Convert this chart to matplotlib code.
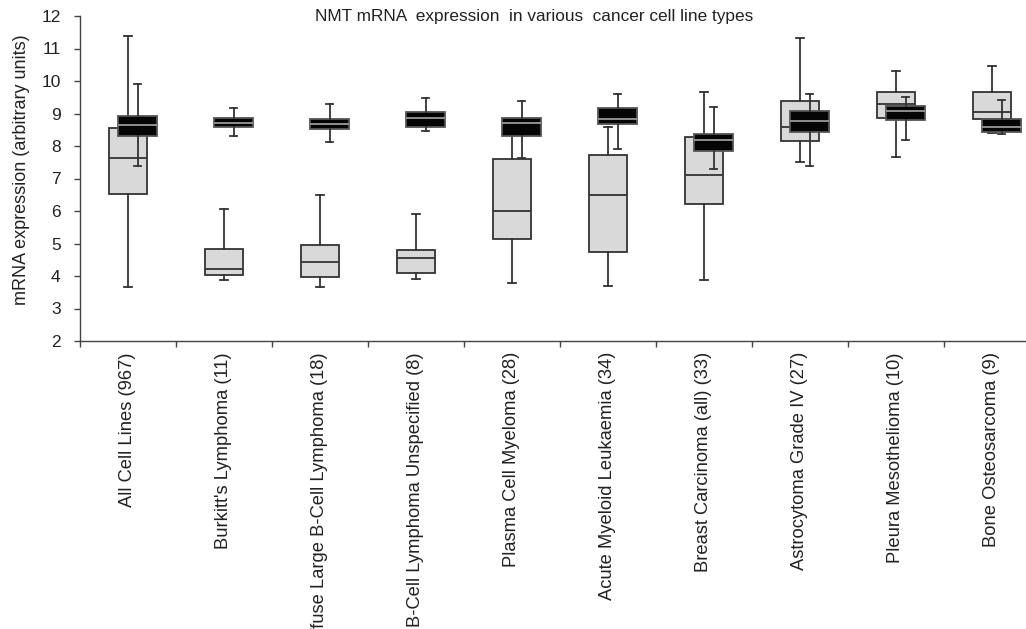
import matplotlib
matplotlib.use("Agg")
import matplotlib.pyplot as plt
from matplotlib import font_manager as fm
import numpy as np

categories = [
    "All Cell Lines (967)",
    "Burkitt's Lymphoma (11)",
    "Diffuse Large B-Cell Lymphoma (18)",
    "B-Cell Lymphoma Unspecified (8)",
    "Plasma Cell Myeloma (28)",
    "Acute Myeloid Leukaemia (34)",
    "Breast Carcinoma (all) (33)",
    "Astrocytoma Grade IV (27)",
    "Pleura Mesothelioma (10)",
    "Bone Osteosarcoma (9)",
]

# grey boxes
gray_whislo = [3.67, 3.89, 3.66, 3.92, 3.78, 3.70, 3.89, 7.50, 7.66, 8.40]
gray_q1     = [6.52, 4.04, 3.97, 4.08, 5.15, 4.73, 6.22, 8.15, 8.86, 8.84]
gray_med    = [7.63, 4.21, 4.42, 4.54, 6.01, 6.48, 7.12, 8.60, 9.30, 9.05]
gray_q3     = [8.56, 4.83, 4.96, 4.80, 7.61, 7.73, 8.27, 9.40, 9.66, 9.66]
gray_whishi = [11.39, 6.05, 6.48, 5.91, 8.40, 8.60, 9.66, 11.31, 10.31, 10.47]

# black boxes
black_whislo = [7.39, 8.30, 8.11, 8.45, 7.62, 7.92, 7.29, 7.39, 8.19, 8.38]
black_q1     = [8.32, 8.58, 8.52, 8.60, 8.32, 8.69, 7.86, 8.43, 8.81, 8.43]
black_med    = [8.66, 8.71, 8.69, 8.86, 8.72, 8.84, 8.17, 8.76, 9.07, 8.58]
black_q3     = [8.92, 8.87, 8.84, 9.06, 8.86, 9.17, 8.36, 9.09, 9.23, 8.82]
black_whishi = [9.90, 9.18, 9.28, 9.48, 9.37, 9.59, 9.21, 9.60, 9.51, 9.41]

title = "NMT mRNA  expression  in various  cancer cell line types"
ylabel = "mRNA expression (arbitrary units)"
yticks = [2, 3, 4, 5, 6, 7, 8, 9, 10, 11, 12]

names = {f.name for f in fm.fontManager.ttflist}
base = "Liberation Sans" if "Liberation Sans" in names else "DejaVu Sans"

W, H = 1026, 629
fig = plt.figure(figsize=(W / 100, H / 100), dpi=100)
ax = fig.add_axes([80 / W, (H - 341) / H, 960 / W, 325 / H])


def stats(lo, q1, med, q3, hi):
    return [dict(whislo=a, q1=b, med=c, q3=d, whishi=e, fliers=[])
            for a, b, c, d, e in zip(lo, q1, med, q3, hi)]


pos = np.arange(len(categories))
edge = "#333333"
lw = 1.3

ax.bxp(stats(gray_whislo, gray_q1, gray_med, gray_q3, gray_whishi),
       positions=pos, widths=0.4, patch_artist=True, showfliers=False,
       capwidths=0.075, zorder=2,
       boxprops=dict(facecolor="#d9d9d9", edgecolor=edge, linewidth=lw),
       medianprops=dict(color=edge, linewidth=lw),
       whiskerprops=dict(color=edge, linewidth=lw),
       capprops=dict(color=edge, linewidth=lw))

ax.bxp(stats(black_whislo, black_q1, black_med, black_q3, black_whishi),
       positions=pos + 0.1, widths=0.4, patch_artist=True, showfliers=False,
       capwidths=0.075, zorder=3,
       boxprops=dict(facecolor="#050505", edgecolor="#555555", linewidth=lw),
       medianprops=dict(color="#9a9a9a", linewidth=lw),
       whiskerprops=dict(color=edge, linewidth=lw),
       capprops=dict(color=edge, linewidth=lw))

ax.set_xlim(-0.5, len(categories) - 0.5)
ax.set_ylim(2, 12)
ax.set_yticks(yticks)
ax.set_yticklabels([str(t) for t in yticks], fontsize=12.5, family=base,
                   color="#222222")

ax.set_xticks(np.arange(-0.5, len(categories), 1.0))
ax.set_xticklabels([])
ax.set_xticks(pos, minor=True)
ax.set_xticklabels(categories, minor=True, rotation=90, fontsize=13.2,
                   family=base, va="top", ha="center", color="#222222")
ax.tick_params(axis="x", which="major", direction="out", length=4, width=1, color="#444444")
ax.tick_params(axis="x", which="minor", length=0, pad=8)
ax.tick_params(axis="y", direction="out", length=4, width=1, color="#444444", pad=10)

for s in ("top", "right"):
    ax.spines[s].set_visible(False)
for s in ("left", "bottom"):
    ax.spines[s].set_color("#444444")
    ax.spines[s].set_linewidth(1.0)

fig.text(534 / W, 1 - 16 / H, title, ha="center", va="center",
         fontsize=12.4, family=base, color="#222222")

fig.text(22 / W, 1 - 170 / H, ylabel, rotation=90, ha="center", va="center",
         fontsize=13, family=base, color="#222222")

fig.savefig("out.png", dpi=100)
